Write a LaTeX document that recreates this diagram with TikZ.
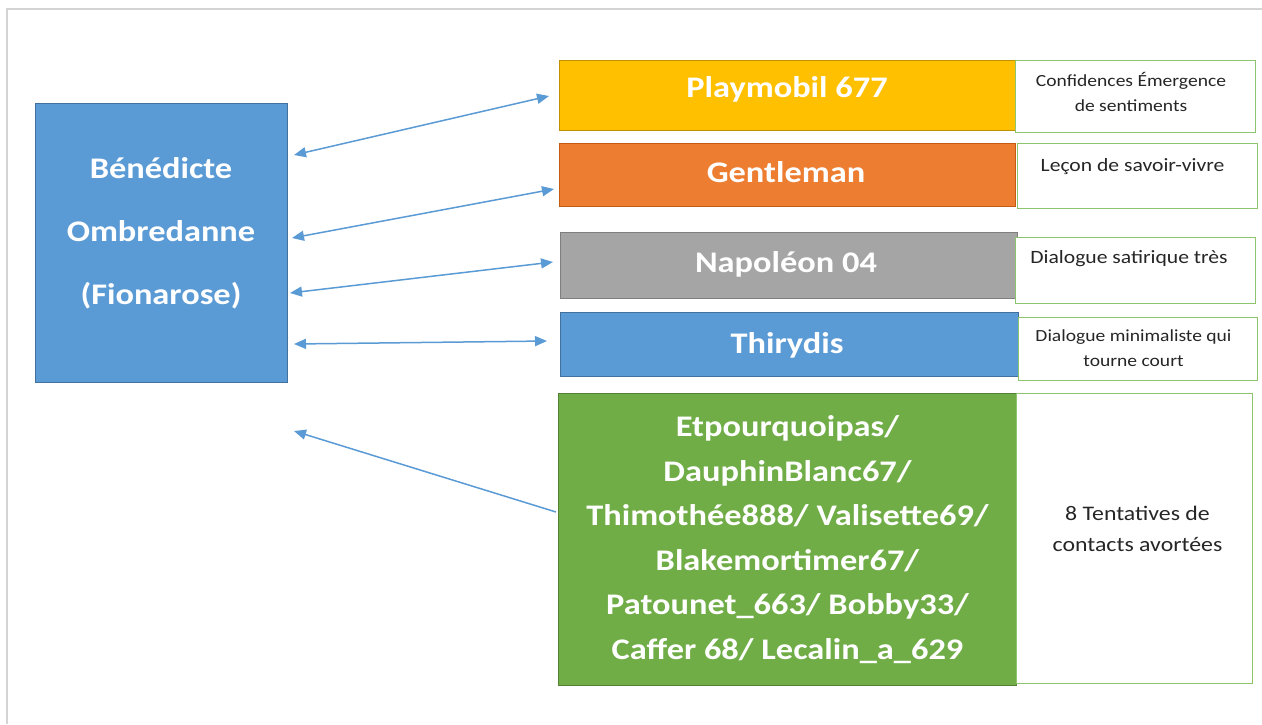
\documentclass[tikz,border=0pt]{standalone}
\usepackage{fontspec}
\setmainfont{Carlito}[FakeStretch=1.15]
\usetikzlibrary{arrows.meta}
\definecolor{oblue}{HTML}{5B9BD5}
\definecolor{obluedark}{HTML}{41719C}
\definecolor{ogold}{HTML}{FFC000}
\definecolor{ogolddark}{HTML}{BF9000}
\definecolor{oorange}{HTML}{ED7D31}
\definecolor{oorangedark}{HTML}{C55A11}
\definecolor{ogray}{HTML}{A5A5A5}
\definecolor{ograydark}{HTML}{7F7F7F}
\definecolor{ogreen}{HTML}{70AD47}
\definecolor{ogreendark}{HTML}{548235}
\definecolor{notegreen}{HTML}{8FC46E}
\definecolor{framegray}{HTML}{D4D4D4}
\definecolor{notetextcol}{HTML}{262626}
\begin{document}
\begin{tikzpicture}[x=1pt,y=-1pt,
  colbox/.style={draw, line width=1pt, inner sep=0pt, anchor=north west, text=white,
    font=\bfseries\fontsize{29.9}{44.6}\selectfont, align=center},
  boxlabel/.style={anchor=base, inner sep=0pt, text=white, font=\bfseries\fontsize{29.9}{44.6}\selectfont},
  notebox/.style={draw=notegreen, line width=1.2pt, fill=white, anchor=north west, inner sep=0pt},
  notetext/.style={font=\fontsize{17}{25}\selectfont, align=center, anchor=center, inner sep=0pt, text=notetextcol},
  bigtext/.style={font=\bfseries\fontsize{29.9}{63}\selectfont, align=center, text=white, inner sep=0pt},
  link/.style={draw=oblue, line width=1.5pt, {Triangle[length=12pt,width=10pt]}-{Triangle[length=12pt,width=10pt]}},
  onelink/.style={draw=oblue, line width=1.5pt, -{Triangle[length=12pt,width=10pt]}}
]
\useasboundingbox (0,0) rectangle (1262,724);
\fill[white] (0,0) rectangle (1262,724);
\draw[framegray, line width=1.8pt] (7,724) -- (7,9) -- (1262,9);

% left box
\node[colbox, fill=oblue, draw=obluedark, minimum width=252pt, minimum height=279pt] (main) at (35,103) {};
\node[bigtext] (maintext) at (161,233.5) {Bénédicte\\Ombredanne\\(Fionarose)};

% coloured boxes
\node[colbox, fill=ogold, draw=ogolddark, minimum width=456pt, minimum height=70pt] (p) at (559,60) {};
\node[boxlabel] (pt) at (787,97.5) {Playmobil 677};
\node[colbox, fill=oorange, draw=oorangedark, minimum width=456pt, minimum height=63pt] (g) at (559,143) {};
\node[boxlabel] (gt) at (786,182) {Gentleman};
\node[colbox, fill=ogray, draw=ograydark, minimum width=457pt, minimum height=66pt] (n) at (560,232) {};
\node[boxlabel] (nt) at (786,272) {Napoléon 04};
\node[colbox, fill=oblue, draw=obluedark, minimum width=458pt, minimum height=64pt] (t) at (560,312) {};
\node[boxlabel] (tt) at (787,353) {Thirydis};
\node[colbox, fill=ogreen, draw=ogreendark, minimum width=458pt, minimum height=292pt] (e) at (558,393)
  {Etpourquoipas/\\DauphinBlanc67/\\Thimothée888/ Valisette69/\\Blakemortimer67/\\Patounet\_663/ Bobby33/\\Caffer 68/ Lecalin\_a\_629};

% note boxes
\node[notebox, minimum width=240pt, minimum height=72pt] (n1) at (1015,60) {};
\node[notebox, minimum width=240pt, minimum height=65pt] (n2) at (1017,143) {};
\node[notebox, minimum width=240pt, minimum height=66pt] (n3) at (1015,237) {};
\node[notebox, minimum width=239pt, minimum height=63pt] (n4) at (1018,317) {};
\node[notebox, minimum width=236pt, minimum height=290pt] (n5) at (1016,393) {};

\node[notetext] (n1t) at (1131,91.5) {Confidences Émergence\\de sentiments};
\node[notetext, font=\fontsize{18.8}{25}\selectfont] (n2t) at (1132.5,167) {Leçon de savoir-vivre};
\node[notetext, font=\fontsize{18.8}{25}\selectfont] (n3t) at (1129,259) {Dialogue satirique très};
\node[notetext] (n4t) at (1133.5,348.5) {Dialogue minimaliste qui\\tourne court};
\node[notetext, font=\fontsize{20.7}{31}\selectfont] (n5t) at (1137.5,528.5) {8 Tentatives de\\contacts avortées};

% connector end points
\coordinate (a1l) at (294,155); \coordinate (a1r) at (549,96);
\coordinate (a2l) at (292,238); \coordinate (a2r) at (554,189);
\coordinate (a3l) at (290,293); \coordinate (a3r) at (553,262);
\coordinate (a4l) at (294,344); \coordinate (a4r) at (547,341);
\coordinate (a5l) at (294,431); \coordinate (a5r) at (556,512);

\draw[link] (a1l) -- (a1r);
\draw[link] (a2l) -- (a2r);
\draw[link] (a3l) -- (a3r);
\draw[link] (a4l) -- (a4r);
\draw[onelink] (a5r) -- (a5l);
\end{tikzpicture}
\end{document}
